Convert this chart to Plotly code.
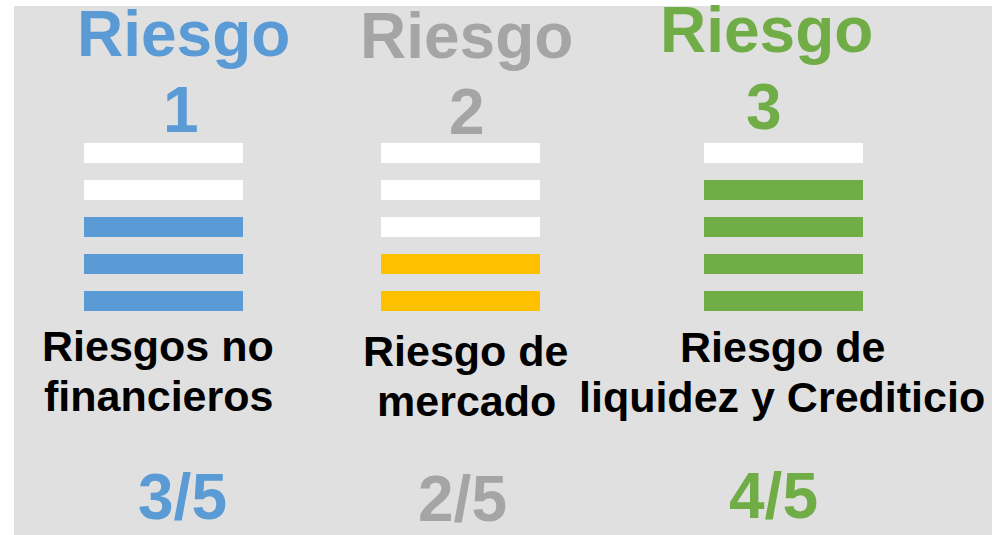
import plotly.graph_objects as go

W, H = 992, 535

# --- data ---
risk_titles = ["Riesgo", "Riesgo", "Riesgo"]
risk_numbers = ["1", "2", "3"]
risk_labels = [
    ["Riesgos no", "financieros"],
    ["Riesgo de", "mercado"],
    ["Riesgo de", "liquidez y Crediticio"],
]
scores = [3, 2, 4]
max_score = 5
levels = [1, 2, 3, 4, 5]

title_colors = ["#5B9BD5", "#A5A5A5", "#70AD47"]
fill_colors = ["#5B9BD5", "#FFC000", "#70AD47"]
empty_color = "#FFFFFF"
bg_color = "#E0E0E0"
font_family = "Liberation Sans, Arial, sans-serif"

# --- layout positions (pixels from top-left) ---
bar_x0 = [84, 381, 704]
bar_w = 159
bars_top, bars_bottom = 133.5, 318.5
title_xy = [(183, 34), (466, 36), (766, 30)]
number_xy = [(181, 110), (467, 112), (764, 107)]
label_xy = [
    [(158, 346), (158, 396)],
    [(466, 351), (466, 401)],
    [(783, 347), (782, 397)],
]
score_xy = [(182, 497), (462, 499), (773, 496)]


def px(x):
    return x / W


def py(y):
    return 1 - y / H


fig = go.Figure()

for i, s in enumerate(scores):
    ax = "" if i == 0 else str(i + 1)
    colors = [fill_colors[i] if lv <= s else empty_color for lv in levels]
    fig.add_trace(
        go.Bar(
            x=[1] * len(levels),
            y=levels,
            orientation="h",
            width=20 / 37,
            marker=dict(color=colors, line=dict(width=0)),
            hoverinfo="skip",
            showlegend=False,
            xaxis="x" + ax,
            yaxis="y",
        )
    )

annotations = []


def add_text(text, xy, size, color):
    annotations.append(
        dict(
            text=text,
            x=px(xy[0]),
            y=py(xy[1]),
            xref="paper",
            yref="paper",
            xanchor="center",
            yanchor="middle",
            showarrow=False,
            font=dict(family=font_family, size=size, color=color, weight="bold"),
        )
    )


for i in range(3):
    add_text(risk_titles[i], title_xy[i], 64, title_colors[i])
    add_text(risk_numbers[i], number_xy[i], 64, title_colors[i])
    for line, xy in zip(risk_labels[i], label_xy[i]):
        add_text(line, xy, 43, "#000000")
    add_text(f"{scores[i]}/{max_score}", score_xy[i], 64, title_colors[i])

axis_off = dict(visible=False, fixedrange=True)
layout = dict(
    width=W,
    height=H,
    margin=dict(l=0, r=0, t=0, b=0),
    paper_bgcolor="white",
    plot_bgcolor="rgba(0,0,0,0)",
    bargap=0,
    annotations=annotations,
    shapes=[
        dict(
            type="rect",
            xref="paper",
            yref="paper",
            x0=px(14),
            x1=1,
            y0=0,
            y1=py(6),
            fillcolor=bg_color,
            line=dict(width=0),
            layer="below",
        )
    ],
    yaxis=dict(axis_off, range=[0.5, 5.5], domain=[py(bars_bottom), py(bars_top)]),
)
for i in range(3):
    key = "xaxis" if i == 0 else f"xaxis{i + 1}"
    layout[key] = dict(
        axis_off,
        range=[0, 1],
        domain=[px(bar_x0[i]), px(bar_x0[i] + bar_w)],
        anchor="y",
    )

fig.update_layout(**layout)
# drop the default page margin so the figure fills the window exactly
fig.write_html(
    "out.html",
    config={"displayModeBar": False},
    post_script="document.body.style.margin='0';document.body.style.overflow='hidden';",
)
